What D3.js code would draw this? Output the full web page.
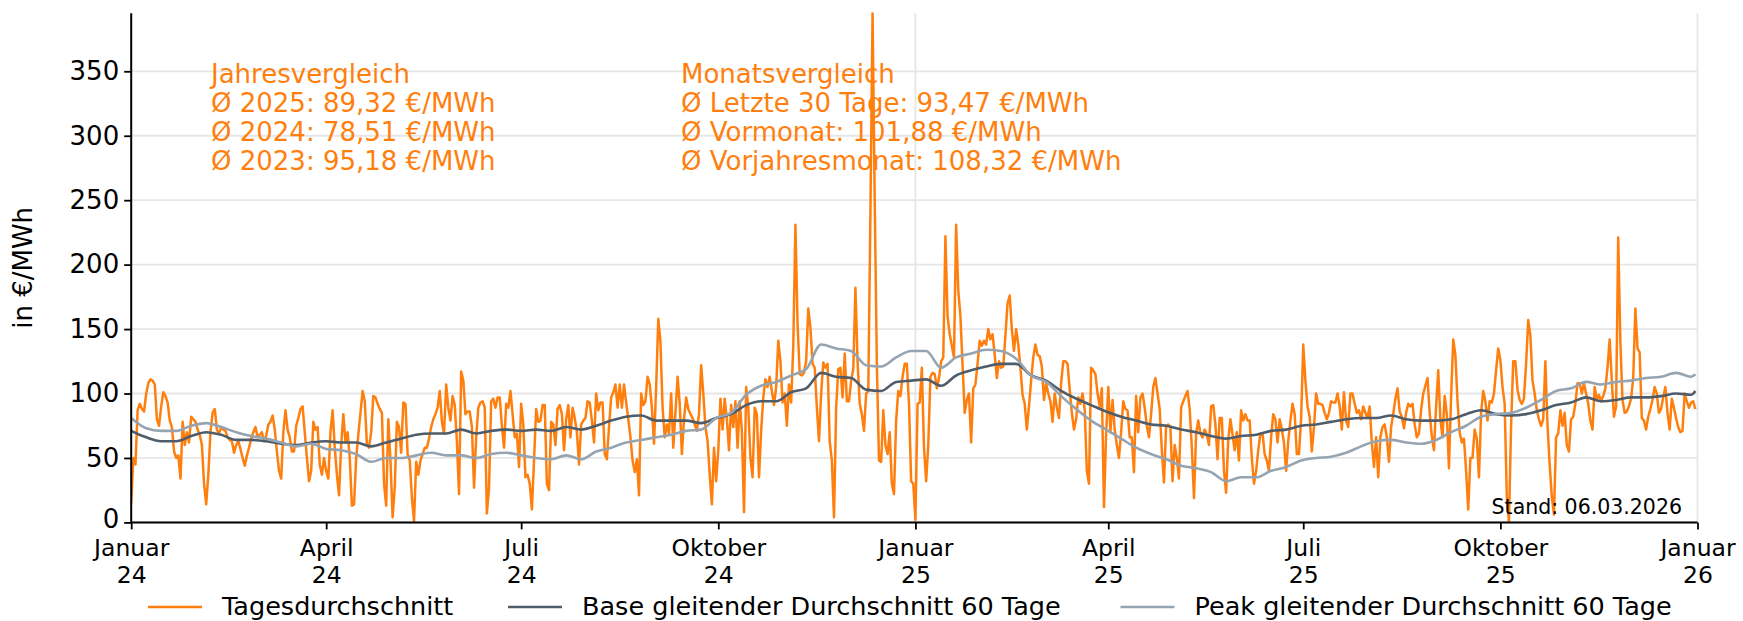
<!DOCTYPE html>
<html><head><meta charset="utf-8">
<script src="https://cdn.jsdelivr.net/npm/d3@7"></script>
<style>body{margin:0;background:#fff}svg{display:block}text{font-family:"DejaVu Sans",sans-serif}</style>
</head><body><svg id="c" width="1743" height="621"></svg>
<script>
// ---- data ----
const startDate = "2024-01-01";
// daily average (€/MWh), one value per day from 2024-01-01 to 2025-12-31
const tagesdurchschnitt = [
15,50,45,87,92,88,86,100,108,111,110,107,80,75,90,101,98,93,79,74,
55,50,52,34,78,60,70,62,82,80,78,72,68,60,30,14,37,70,85,88,
72,69,74,72,71,66,64,63,54,60,63,57,50,44,52,58,65,70,74,66,
68,70,63,67,76,78,83,72,55,40,34,70,87,72,66,55,55,75,81,88,
90,70,50,32,40,78,72,74,45,37,50,40,
34,70,87,58,37,21,60,84,62,70,50,13,14,50,68,85,102,94,61,58,
70,98,97,92,88,85,30,13,80,48,4,27,78,74,54,93,92,53,48,19,
1,47,37,48,53,58,58,65,74,80,84,89,102,78,69,107,89,79,98,91,
63,22,117,110,84,86,86,74,27,66,89,93,94,89,7,27,94,96,89,97,
97,75,58,92,89,102,84,66,69,43,92,76,35,
37,30,10,48,88,78,79,91,91,30,25,78,76,60,88,91,84,56,80,91,
66,89,81,70,45,76,79,81,94,93,79,62,100,87,93,93,53,49,74,97,
101,107,89,107,89,107,93,80,66,48,39,49,21,100,91,94,113,107,89,61,
105,158,140,89,66,76,69,100,58,85,113,92,53,80,97,88,84,81,76,71,
84,122,100,74,63,37,14,58,32,56,96,72,96,
80,56,91,74,94,58,94,71,8,105,89,50,35,89,84,35,71,97,111,105,
113,102,91,105,141,125,93,100,75,107,93,137,231,154,115,114,116,125,166,151,
123,120,89,63,100,124,120,123,63,48,4,89,119,120,97,131,94,94,110,119,
182,125,92,84,71,100,102,240,395,250,123,48,47,87,60,53,70,30,22,79,
102,98,113,123,123,92,32,30,2,92,93,120,58,32,
60,113,116,115,104,112,125,128,222,160,146,137,128,231,180,160,122,85,95,100,
62,104,107,123,141,137,141,138,150,142,146,130,112,125,120,121,145,170,176,150,
133,150,138,120,99,92,72,90,110,128,138,130,129,121,95,108,100,94,78,100,
89,81,108,125,125,123,103,85,72,80,97,92,100,88,40,30,120,118,115,100,
90,104,12,69,105,70,95,72,60,50,70,94,88,
87,66,66,39,98,70,97,100,89,75,66,84,105,112,100,88,56,31,75,76,
74,32,60,50,34,89,94,98,102,88,58,19,69,79,69,66,72,68,60,90,
91,76,49,81,81,40,23,64,80,68,56,70,48,87,79,84,79,79,50,30,
40,56,69,69,53,48,40,66,84,80,62,80,72,62,40,63,79,92,84,53,
53,80,138,110,90,82,55,74,100,92,92,91,85,
80,85,94,93,93,100,90,72,101,79,74,100,100,92,85,87,80,90,85,81,
90,62,43,66,35,66,74,76,66,47,74,84,96,104,86,82,73,85,92,90,
92,76,66,69,87,100,106,112,85,67,56,90,118,80,66,98,84,42,97,142,
130,94,70,62,65,40,10,50,50,72,65,35,85,102,94,79,94,93,100,118,
135,126,105,92,20,0,75,125,125,103,95,92,96,123,
157,145,110,100,87,80,75,80,125,75,45,20,6,66,69,87,75,85,60,55,
80,82,92,108,108,100,108,100,92,79,72,105,95,99,94,98,104,120,142,110,
82,90,221,140,95,85,86,90,96,112,166,135,132,81,79,72,82,88,95,105,
100,85,88,97,105,85,72,96,89,81,74,70,71,100,94,89,93,94,88
];
// 60-day moving averages, read every 7 days from 2024-01-01, last value on 2025-12-31
const maStepDays = 7;
const maLastDay = 730;
const baseMA = [
71,66,63,63,67,70,68,64,64,63,61,60,62,63,
62,62,59,62,65,68,69,69,72,69,71,72,71,
72,71,74,72,75,79,82,83,79,79,79,77,81,
84,91,94,94,101,104,116,113,112,103,102,109,110,111,
106,114,118,121,123,123,114,110,102,96,91,86,82,
79,76,75,72,70,67,65,67,68,71,72,75,76,
78,80,81,81,83,80,79,79,80,84,87,84,83,84,
87,91,93,97,94,95,97,97,98,100,99,
102
];
const peakMA = [
81,73,71,71,75,77,74,70,67,65,62,59,61,57,
56,53,47,50,50,52,54,52,52,50,53,54,52,
50,49,52,49,55,58,62,64,66,68,71,72,81,
85,99,106,109,114,119,138,135,133,122,121,128,133,133,
120,128,131,134,133,127,114,109,98,88,79,72,65,
58,53,49,44,42,39,32,35,35,40,43,48,50,
51,54,59,63,64,62,61,64,70,75,82,84,85,89,
95,102,104,109,107,109,110,112,113,116,113,
115
];
const xTickDates = ["2024-01-01","2024-04-01","2024-07-01","2024-10-01","2025-01-01","2025-04-01","2025-07-01","2025-10-01","2026-01-01"];
const xTickMonths = ["Januar","April","Juli","Oktober","Januar","April","Juli","Oktober","Januar"];
const xTickYears = ["24","24","24","24","25","25","25","25","26"];
const xGridDates = ["2025-01-01","2026-01-01"];
const yTicks = [0,50,100,150,200,250,300,350];
const yLabel = "in €/MWh";
const jahresText = ["Jahresvergleich","Ø 2025: 89,32 €/MWh","Ø 2024: 78,51 €/MWh","Ø 2023: 95,18 €/MWh"];
const monatsText = ["Monatsvergleich","Ø Letzte 30 Tage: 93,47 €/MWh","Ø Vormonat: 101,88 €/MWh","Ø Vorjahresmonat: 108,32 €/MWh"];
const legendLabels = ["Tagesdurchschnitt","Base gleitender Durchschnitt 60 Tage","Peak gleitender Durchschnitt 60 Tage"];
const standText = "Stand: 06.03.2026";

// ---- drawing ----
const W = 1743, H = 621;
const L = 131.2, R = 1697.5, T = 13.3, B = 522.4;
const colors = {orange:"#ff7f0e", base:"#4f5d6a", peak:"#96a4b1", grid:"#e6e6e6"};
const fs = 26, fsTick = 23.5, fsLegend = 25.5;
const svg = d3.select("#c");
const parse = d3.utcParse("%Y-%m-%d");
const t0 = parse(startDate);
const dayDate = i => d3.utcDay.offset(t0, i);

const x = d3.scaleUtc().domain([parse(xTickDates[0]), parse(xTickDates[xTickDates.length-1])]).range([L, R]);
const y = d3.scaleLinear().domain([0, d3.max(tagesdurchschnitt)]).range([B, T]);

// grid
const g = svg.append("g");
g.selectAll("line.hg").data(yTicks).join("line")
  .attr("x1", L).attr("x2", R).attr("y1", d => y(d)).attr("y2", d => y(d))
  .attr("stroke", colors.grid).attr("stroke-width", 1.8);
g.selectAll("line.vg").data(xGridDates).join("line")
  .attr("x1", d => x(parse(d))).attr("x2", d => x(parse(d))).attr("y1", T).attr("y2", B)
  .attr("stroke", colors.grid).attr("stroke-width", 1.8);

svg.append("defs").append("clipPath").attr("id","clip").append("rect")
  .attr("x", L).attr("y", T - 1).attr("width", R - L).attr("height", B - T + 1);

const daily = tagesdurchschnitt.map((v, i) => [dayDate(i), v]);
const maDay = i => i === baseMA.length - 1 ? maLastDay : i * maStepDays;
const baseData = baseMA.map((v, i) => [dayDate(maDay(i)), v]);
const peakData = peakMA.map((v, i) => [dayDate(maDay(i)), v]);
const line = d3.line().x(d => x(d[0])).y(d => y(d[1]));

const lines = svg.append("g").attr("clip-path", "url(#clip)");
lines.append("path").datum(daily).attr("d", line).attr("fill","none")
  .attr("stroke", colors.orange).attr("stroke-width", 2.5).attr("stroke-linejoin","round");
lines.append("path").datum(baseData).attr("d", line.curve(d3.curveMonotoneX)).attr("fill","none")
  .attr("stroke", colors.base).attr("stroke-width", 2.6);
lines.append("path").datum(peakData).attr("d", line.curve(d3.curveMonotoneX)).attr("fill","none")
  .attr("stroke", colors.peak).attr("stroke-width", 2.6);

// axes
const yAxis = svg.append("g").attr("transform", `translate(${L},0)`)
  .call(d3.axisLeft(y).tickValues(yTicks).tickSize(7).tickPadding(5).tickFormat(d3.format("d")));
const xAxis = svg.append("g").attr("transform", `translate(0,${B})`)
  .call(d3.axisBottom(x).tickValues(xTickDates.map(parse)).tickSize(7).tickPadding(5).tickFormat(() => ""));
[yAxis, xAxis].forEach(a => {
  a.select(".domain").attr("stroke", "#000").attr("stroke-width", 2);
  a.selectAll(".tick line").attr("stroke", "#000").attr("stroke-width", 1.8);
});
yAxis.select(".domain").attr("d", `M0,${B}V${T}`);
xAxis.select(".domain").attr("d", `M${L},0H${R}`);
yAxis.selectAll(".tick text").attr("font-size", fs).attr("fill", "#000")
  .attr("dy", d => d === 0 ? "0.2em" : "0.32em")
  .attr("font-family", '"DejaVu Sans",sans-serif');
xAxis.selectAll(".tick text").remove();
xAxis.selectAll(".tick").each(function(d, i) {
  const tick = d3.select(this);
  tick.append("text").attr("fill","#000").attr("font-size", fsTick).attr("text-anchor","middle")
    .attr("font-family", '"DejaVu Sans",sans-serif').attr("x", 0).attr("y", 33.4).text(xTickMonths[i]);
  tick.append("text").attr("fill","#000").attr("font-size", fsTick).attr("text-anchor","middle")
    .attr("font-family", '"DejaVu Sans",sans-serif').attr("x", 0).attr("y", 61).text(xTickYears[i]);
});

// y label
svg.append("text").attr("transform", `translate(32,${(T + B) / 2}) rotate(-90)`)
  .attr("text-anchor","middle").attr("font-size", fs).attr("fill","#000").text(yLabel);

// annotations
const ann = (arr, x0) => svg.append("g").selectAll("text").data(arr).join("text")
  .attr("x", x0).attr("y", (d, i) => 83 + i * 28.9).attr("font-size", fs)
  .attr("fill", colors.orange).text(d => d);
ann(jahresText, 211);
ann(monatsText, 681);

svg.append("text").attr("x", 1682).attr("y", 513.5).attr("text-anchor","end")
  .attr("font-size", 20.5).attr("fill","#000").text(standText);

// legend
const legendColors = [colors.orange, colors.base, colors.peak];
const legendX = [148, 508, 1120.5];
const lg = svg.append("g");
legendLabels.forEach((lab, i) => {
  lg.append("line").attr("x1", legendX[i]).attr("x2", legendX[i] + 54).attr("y1", 607).attr("y2", 607)
    .attr("stroke", legendColors[i]).attr("stroke-width", 2.6);
  lg.append("text").attr("x", legendX[i] + 74).attr("y", 614.8).attr("font-size", fsLegend).attr("fill","#000").text(lab);
});
</script></body></html>
